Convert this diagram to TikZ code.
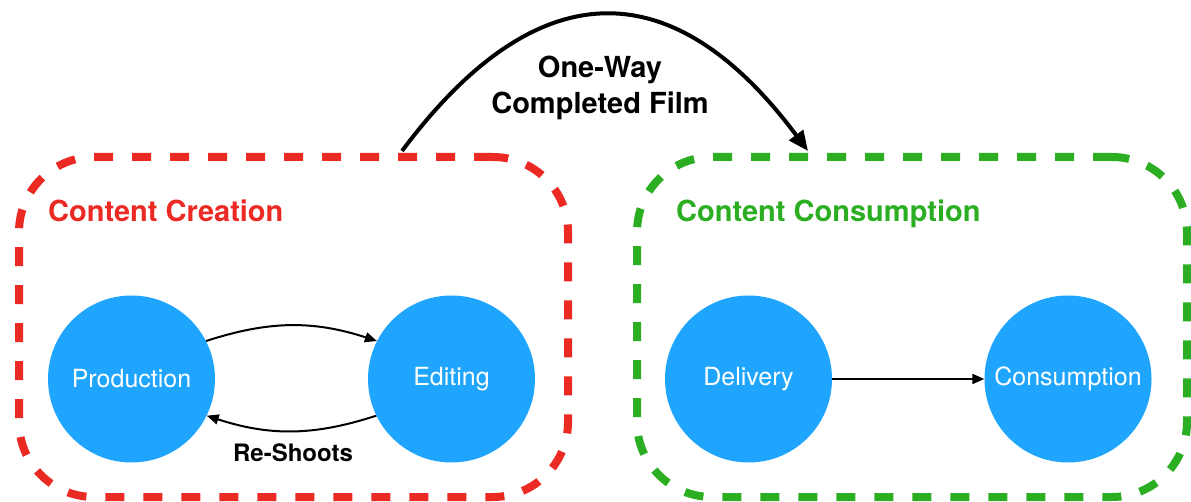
\documentclass[tikz,border=0pt]{standalone}
\usepackage{fontspec}
\setmainfont{TeX Gyre Heros}
\usetikzlibrary{arrows.meta}

\definecolor{stagered}{HTML}{EC2A24}
\definecolor{stagegreen}{HTML}{2BAE22}
\definecolor{stageblue}{HTML}{1FA5FD}

\begin{document}
\begin{tikzpicture}[x=1pt,y=-1pt,
  stagebox/.style={draw, line width=8pt, dash pattern=on 19pt off 19pt,
    rounded corners=75pt, minimum width=549pt, minimum height=340pt, inner sep=0pt},
  stage/.style={circle, fill=stageblue, minimum size=167pt, inner sep=0pt,
    text=white, font=\fontsize{25}{30}\selectfont},
  boxtitle/.style={anchor=base west, inner sep=0pt, font=\bfseries\fontsize{29}{34}\selectfont},
  flow/.style={line width=2pt, -{Triangle[length=12pt,width=10pt]}},
  handoff/.style={line width=4pt, -{Triangle[length=20pt,width=17pt]}},
  note/.style={font=\bfseries\fontsize{24}{28}\selectfont}
]
\useasboundingbox (0,0) rectangle (1191,502);

% the two stage groups
\node[stagebox, draw=stagered] (creation) at (293.5,327) {};
\node[stagebox, draw=stagegreen, minimum width=550pt] (consumptionbox) at (912,327) {};

\node[boxtitle, text=stagered] (creationtitle) at (48,222) {Content Creation};
\node[boxtitle, text=stagegreen] (consumptiontitle) at (676,222) {Content Consumption};

% stages
\node[stage] (production) at (131.5,379) {Production};
\node[stage] (editing) at (451.5,379) {Editing};
\node[stage] (delivery) at (748.5,379) {Delivery};
\node[stage] (consumption) at (1068,379) {Consumption};

% loops inside creation
\draw[flow] (production.27) to[bend left=18] (editing.153);
\draw[flow] (editing.206) to[bend left=18] (production.-26);
\node[note] (reshoots) at (293,453) {Re-Shoots};

% delivery to consumption
\draw[flow] (delivery.east) -- (consumption.west);

% hand-off between the groups
\coordinate (filmout) at (402,151);
\coordinate (filmin) at (808,151);
\draw[handoff] (filmout) .. controls (537,-30) and (673,-30) .. (filmin);
\node[align=center, font=\bfseries\fontsize{29}{36}\selectfont] (filmlabel) at (600,87.5)
  {One-Way\\Completed Film};
\end{tikzpicture}
\end{document}
